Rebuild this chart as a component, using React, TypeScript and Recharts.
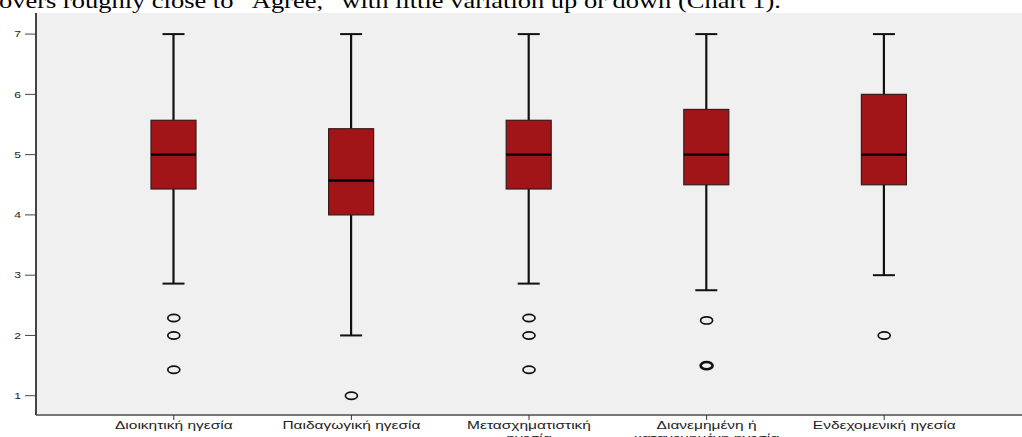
import React from 'react';
import { ComposedChart, Bar, Scatter, XAxis, YAxis, CartesianGrid } from 'recharts';

const categories = [
  'Διοικητική ηγεσία',
  'Παιδαγωγική ηγεσία',
  'Μετασχηματιστική ηγεσία',
  'Διανεμημένη ή κατανεμημένη ηγεσία',
  'Ενδεχομενική ηγεσία',
];
const whiskerLow = [2.86, 2.0, 2.86, 2.75, 3.0];
const q1 = [4.43, 4.0, 4.43, 4.5, 4.5];
const median = [5.0, 4.57, 5.0, 5.0, 5.0];
const q3 = [5.57, 5.43, 5.57, 5.75, 6.0];
const whiskerHigh = [7, 7, 7, 7, 7];
const outliers = [[2.29, 2.0, 1.43], [1.0], [2.29, 2.0, 1.43], [2.25, 1.5, 1.5], [2.0]];
const yTicks = [1, 2, 3, 4, 5, 6, 7];

const boxData = categories.map((name, i) => ({
  name,
  range: [whiskerLow[i], whiskerHigh[i]],
  low: whiskerLow[i],
  q1: q1[i],
  median: median[i],
  q3: q3[i],
  high: whiskerHigh[i],
}));

// repeated outlier values are drawn once, with a heavier ring
const outlierData = categories.flatMap((name, i) => {
  const counts: Record<string, number> = {};
  outliers[i].forEach((v) => (counts[String(v)] = (counts[String(v)] || 0) + 1));
  return Object.keys(counts).map((k) => ({ name, value: Number(k), n: counts[k] }));
});

const BoxShape = (props: any) => {
  const { x, y, width, height, payload } = props;
  const top = Math.min(y, y + height);
  const bottom = Math.max(y, y + height);
  const span = payload.high - payload.low;
  const py = (v: number) => top + ((payload.high - v) / span) * (bottom - top);
  const cx = x + width / 2;
  const cap = 11;
  return (
    <g>
      <line x1={cx} x2={cx} y1={py(payload.high)} y2={py(payload.q3)} stroke="#111" strokeWidth={2.2} />
      <line x1={cx} x2={cx} y1={py(payload.q1)} y2={py(payload.low)} stroke="#111" strokeWidth={2.2} />
      <line x1={cx - cap} x2={cx + cap} y1={py(payload.high)} y2={py(payload.high)} stroke="#111" strokeWidth={2} />
      <line x1={cx - cap} x2={cx + cap} y1={py(payload.low)} y2={py(payload.low)} stroke="#111" strokeWidth={2} />
      <rect
        x={x}
        y={py(payload.q3)}
        width={width}
        height={py(payload.q1) - py(payload.q3)}
        fill="#a11519"
        stroke="#3a1a1a"
        strokeWidth={1.2}
      />
      <line x1={x} x2={x + width} y1={py(payload.median)} y2={py(payload.median)} stroke="#000" strokeWidth={2.4} />
    </g>
  );
};

const Ring = (props: any) => {
  const { cx, cy, payload } = props;
  return (
    <ellipse cx={cx} cy={cy} rx={6} ry={3.6} fill="none" stroke="#111" strokeWidth={payload.n > 1 ? 2.6 : 1.7} />
  );
};

const wrap = (label: string, max: number) => {
  const lines: string[] = [];
  let cur = '';
  label.split(' ').forEach((w) => {
    const next = cur ? cur + ' ' + w : w;
    if (next.length > max && cur) {
      lines.push(cur);
      cur = w;
    } else cur = next;
  });
  if (cur) lines.push(cur);
  return lines;
};

const XTick = (props: any) => {
  const { x, y, payload } = props;
  const lines = wrap(String(payload.value), 20);
  return (
    <g transform={`translate(${x},${y}) scale(1.55,1)`}>
      <text x={0} y={0} textAnchor="middle" fontSize={10} fill="#222" fontFamily="'Liberation Sans', Arial, sans-serif">
        {lines.map((l, i) => (
          <tspan key={i} x={0} dy={i === 0 ? '0.71em' : 13}>
            {l}
          </tspan>
        ))}
      </text>
    </g>
  );
};

const YTick = (props: any) => {
  const { x, y, payload } = props;
  return (
    <g transform={`translate(${x},${y}) scale(1.35,1)`}>
      <text x={0} y={0} dy="0.35em" textAnchor="end" fontSize={9} fill="#222" fontFamily="'Liberation Sans', Arial, sans-serif">
        {payload.value}
      </text>
    </g>
  );
};

export default function App() {
  return (
    <div style={{ position: 'absolute', left: 0, top: 0, width: 1022, height: 437, overflow: 'hidden', background: '#fff' }}>
      <div
        style={{
          position: 'absolute',
          left: -1,
          top: -9,
          fontFamily: "'Liberation Serif', 'Times New Roman', serif",
          fontSize: 21,
          lineHeight: '21px',
          whiteSpace: 'nowrap',
          color: '#000',
          transform: 'scaleX(1.26)',
          transformOrigin: '0 0',
        }}
      >
        overs roughly close to “Agree,” with little variation up or down (Chart 1).
      </div>
      <ComposedChart width={1022} height={470} data={boxData} margin={{ top: 13, right: 0, left: 0, bottom: 0 }}>
        <CartesianGrid fill="#f0f0f0" horizontal={false} vertical={false} />
        <XAxis
          dataKey="name"
          allowDuplicatedCategory={false}
          padding={{ left: 49, right: 49 }}
          height={55}
          tickSize={5}
          tickMargin={2}
          interval={0}
          tick={<XTick />}
          axisLine={{ stroke: '#777', strokeWidth: 2 }}
          tickLine={{ stroke: '#333' }}
        />
        <XAxis
          xAxisId="top"
          orientation="top"
          dataKey="name"
          height={0}
          tick={false}
          tickLine={false}
          axisLine={{ stroke: '#999', strokeWidth: 2 }}
        />
        <YAxis
          type="number"
          domain={[0.68, 7.35]}
          ticks={yTicks}
          width={36}
          tickSize={11}
          tickMargin={4}
          tick={<YTick />}
          axisLine={{ stroke: '#444', strokeWidth: 2 }}
          tickLine={{ stroke: '#444' }}
        />
        <Bar dataKey="range" barSize={45} shape={<BoxShape />} isAnimationActive={false} />
        <Scatter data={outlierData} dataKey="value" shape={<Ring />} isAnimationActive={false} />
      </ComposedChart>
    </div>
  );
}
